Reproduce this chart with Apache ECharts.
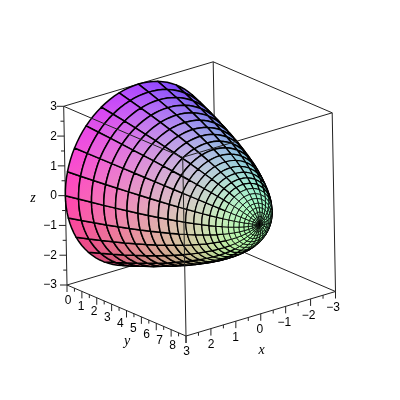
<!DOCTYPE html>
<html>
<head>
<meta charset="utf-8">
<style>html,body{margin:0;padding:0;background:#fff}#main{width:400px;height:400px}</style>
<script src="https://cdn.jsdelivr.net/npm/echarts@6/dist/echarts.min.js"></script>
</head>
<body>
<div id="main"></div>
<script>
// tick values
var xTicks = [3, 2, 1, 0, -1, -2, -3];
var yTicks = [0, 1, 2, 3, 4, 5, 6, 7, 8];
var zTicks = [3, 2, 1, 0, -1, -2, -3];
// surface mesh, read ring by ring from the apex to the open rim
var ringRadius = [0, 0.125, 0.25, 0.375, 0.5, 0.625, 0.75, 0.875, 1, 1.125, 1.25, 1.375, 1.5, 1.625, 1.75, 1.875, 2, 2.125, 2.25, 2.375, 2.5, 2.625, 2.75, 2.875, 3];
var ringHeight = [8, 7.99, 7.96, 7.9, 7.81, 7.7, 7.56, 7.4, 7.2, 6.98, 6.73, 6.45, 6.13, 5.79, 5.42, 5.02, 4.58, 4.12, 3.63, 3.1, 2.54, 1.96, 1.34, 0.68, 0];
var meridians = [0, 15, 30, 45, 60, 75, 90, 105, 120, 135, 150, 165, 180, 195, 210, 225, 240, 255, 270, 285, 300, 315, 330, 345, 360];

// orthographic camera, plot box corner (x=3,y=0,z=-3) plus one screen vector per box edge
var origin = [67, 285];
var xEdge = [149.5, -44.5];
var yEdge = [119, 51];
var zEdge = [-3.3, -178.7];
var viewDir = [-21097, 26863, 12920];

function boxCoord(x, y, z) {
    return [(3 - x) / 6, y / 8, (z + 3) / 6];
}
function project(x, y, z) {
    var b = boxCoord(x, y, z);
    return [
        origin[0] + b[0] * xEdge[0] + b[1] * yEdge[0] + b[2] * zEdge[0],
        origin[1] + b[0] * xEdge[1] + b[1] * yEdge[1] + b[2] * zEdge[1]
    ];
}
function depth(x, y, z) {
    var b = boxCoord(x, y, z);
    return b[0] * viewDir[0] + b[1] * viewDir[1] + b[2] * viewDir[2];
}
function ringPoint(i, deg) {
    var t = deg * Math.PI / 180;
    return [ringRadius[i] * Math.cos(t), ringHeight[i], ringRadius[i] * Math.sin(t)];
}
function node(i, j) {
    return ringPoint(i, meridians[j]);
}
// maple's shading=xyz, washed out a bit
function shade(p) {
    var b = boxCoord(p[0], p[1], p[2]);
    var r = Math.round(255 * ((1 - b[0]) * 0.7 + 0.3));
    var g = Math.round(255 * (b[1] * 0.72 + 0.28));
    var c = Math.round(255 * (b[2] * 0.58 + 0.42));
    return 'rgb(' + r + ',' + g + ',' + c + ')';
}

var cells = [];
for (var i = 0; i < ringRadius.length - 1; i++) {
    for (var j = 0; j < meridians.length - 1; j++) {
        var a = node(i, j), c = node(i + 1, j + 1);
        cells.push({ value: [i, j], d: depth((a[0] + c[0]) / 2, (a[1] + c[1]) / 2, (a[2] + c[2]) / 2) });
    }
}
cells.sort(function (p, q) { return p.d - q.d; });

var backEdges = [
    [3, 0, -3, -3, 0, -3], [-3, 0, -3, -3, 8, -3], [-3, 0, -3, -3, 0, 3],
    [3, 0, 3, -3, 0, 3], [-3, 0, 3, -3, 8, 3], [3, 0, -3, 3, 0, 3], [-3, 8, -3, -3, 8, 3]
];
var frontEdges = [
    [3, 0, 3, 3, 8, 3], [3, 8, 3, -3, 8, 3], [3, 8, 3, 3, 8, -3],
    [3, 0, -3, 3, 8, -3], [3, 8, -3, -3, 8, -3]
];

function renderEdge(params, api) {
    var p1 = api.coord(project(api.value(0), api.value(1), api.value(2)));
    var p2 = api.coord(project(api.value(3), api.value(4), api.value(5)));
    return {
        type: 'line',
        shape: { x1: p1[0], y1: p1[1], x2: p2[0], y2: p2[1] },
        style: { stroke: '#222', lineWidth: 1, fill: null }
    };
}

function renderCell(params, api) {
    var i = api.value(0), j = api.value(1);
    var t0 = meridians[j], t1 = meridians[j + 1];
    var n = [];
    // ring edges follow the circle so the outline stays round
    for (var s = 0; s <= 4; s++) n.push(ringPoint(i, t0 + (t1 - t0) * s / 4));
    for (s = 4; s >= 0; s--) n.push(ringPoint(i + 1, t0 + (t1 - t0) * s / 4));
    var pts = n.map(function (p) { return api.coord(project(p[0], p[1], p[2])); });
    return {
        type: 'polygon',
        shape: { points: pts },
        style: {
            fill: new echarts.graphic.LinearGradient(pts[0][0], pts[0][1], pts[6][0], pts[6][1], [
                { offset: 0, color: shade(n[0]) },
                { offset: 1, color: shade(n[6]) }
            ], true),
            stroke: '#000',
            lineWidth: i < 8 ? 0.8 : (i < 14 ? 1.2 : 1.5),
            lineJoin: 'round'
        }
    };
}

// ticks hang off the box edges: [x, y, z, tick dx, tick dy]
var tickData = [];
function addTicks(list, step, fn, dir) {
    for (var v = list[0]; step > 0 ? v <= list[list.length - 1] : v >= list[list.length - 1]; v += step) {
        var major = v === Math.round(v);
        var p = fn(v);
        tickData.push([p[0], p[1], p[2], dir[0] * (major ? 7 : 3.5), dir[1] * (major ? 7 : 3.5)]);
    }
}
addTicks(xTicks, -0.5, function (v) { return [v, 8, -3]; }, [0, 1]);
addTicks(yTicks, 0.5, function (v) { return [3, v, -3]; }, [0, 1]);
addTicks(zTicks, -0.5, function (v) { return [3, 0, v]; }, [-1, 0]);

function renderTick(params, api) {
    var p = api.coord(project(api.value(0), api.value(1), api.value(2)));
    return {
        type: 'line',
        shape: { x1: p[0], y1: p[1], x2: p[0] + api.value(3), y2: p[1] + api.value(4) },
        style: { stroke: '#222', lineWidth: 1, fill: null }
    };
}

function tickLabel(v) {
    return v < 0 ? '\u2212' + (-v) : String(v);
}
// label rows run beside the axes, from first label to last label
var labelData = [];
function addLabels(list, from, to, align) {
    list.forEach(function (v, idx) {
        var f = idx / (list.length - 1);
        labelData.push({ value: [from[0] + (to[0] - from[0]) * f, from[1] + (to[1] - from[1]) * f], name: tickLabel(v), align: align });
    });
}
addLabels(xTicks, [186.7, 352], [333, 308], 'center');
addLabels(yTicks, [68, 300.7], [172.7, 346], 'center');
addLabels(zTicks, [57, 107], [57, 285], 'right');

var nameData = [
    { value: [261.5, 350], name: 'x', align: 'center' },
    { value: [127, 341], name: 'y', align: 'center' },
    { value: [33, 198], name: 'z', align: 'center' }
];

function renderText(font, list) {
    return function (params, api) {
        var p = api.coord([api.value(0), api.value(1)]);
        return {
            type: 'text',
            x: p[0],
            y: p[1],
            style: {
                text: list[params.dataIndex].name,
                font: font,
                fill: '#000',
                textAlign: list[params.dataIndex].align,
                textVerticalAlign: 'middle'
            }
        };
    };
}

var myChart = echarts.init(document.getElementById('main'));
var option = {
    backgroundColor: '#fff',
    animation: false,
    grid: { left: 0, right: 0, top: 0, bottom: 0 },
    xAxis: { type: 'value', min: 0, max: 400, show: false },
    yAxis: { type: 'value', min: 0, max: 400, inverse: true, show: false },
    series: [
        { type: 'custom', name: 'back', z: 1, progressive: 0, silent: true, renderItem: renderEdge, data: backEdges },
        { type: 'custom', name: 'surface', z: 2, progressive: 0, silent: true, renderItem: renderCell, data: cells.map(function (c) { return c.value; }) },
        { type: 'custom', name: 'front', z: 3, progressive: 0, silent: true, renderItem: renderEdge, data: frontEdges },
        { type: 'custom', name: 'ticks', z: 3, progressive: 0, silent: true, renderItem: renderTick, data: tickData },
        { type: 'custom', name: 'labels', z: 4, progressive: 0, silent: true, renderItem: renderText('12px "Liberation Sans"', labelData), data: labelData },
        { type: 'custom', name: 'names', z: 4, progressive: 0, silent: true, renderItem: renderText('italic 14px "Liberation Serif"', nameData), data: nameData }
    ]
};
myChart.setOption(option);
</script>
</body>
</html>
